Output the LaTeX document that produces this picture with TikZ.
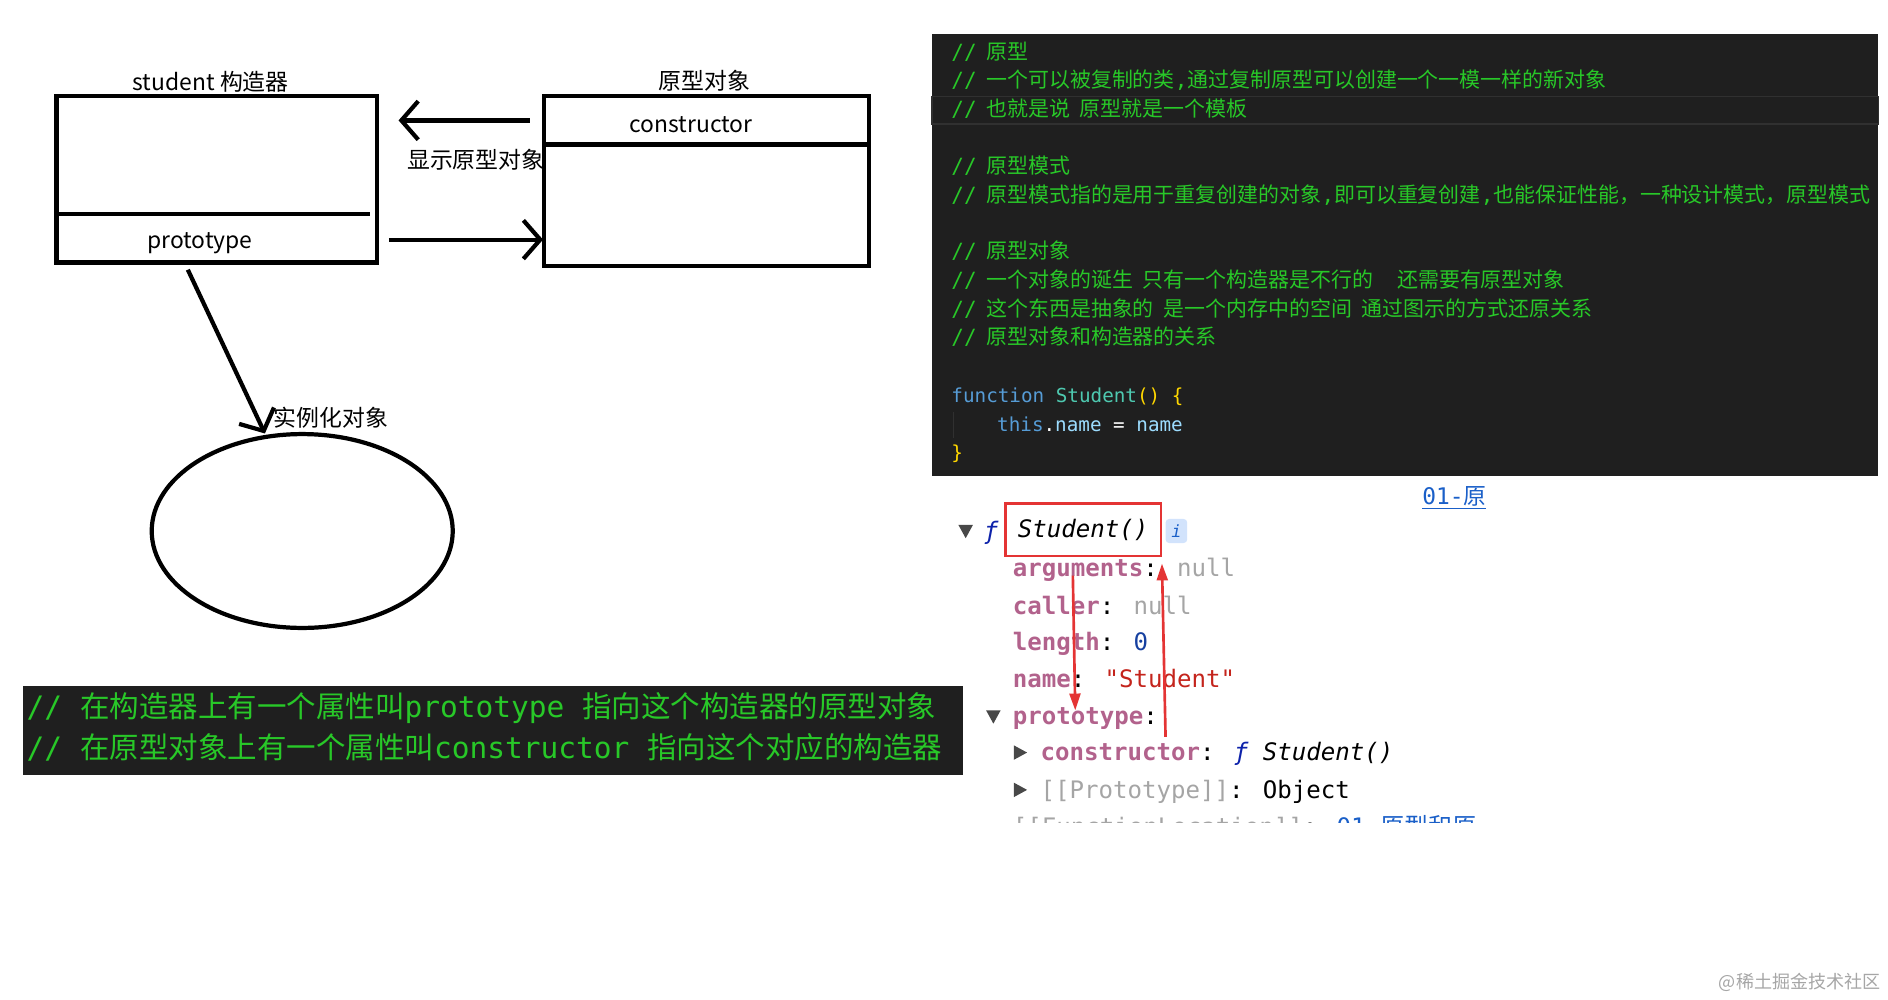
\documentclass[tikz,border=0pt]{standalone}
\usepackage{fontspec}
\setmainfont{Noto Sans CJK SC}
\newfontfamily\monofont{DejaVu Sans Mono}
\usetikzlibrary{arrows.meta}

\definecolor{codebg}{RGB}{31,31,31}
\definecolor{hlline}{RGB}{48,48,48}
\definecolor{cmtgreen}{RGB}{40,200,40}
\definecolor{kwblue}{RGB}{86,156,214}
\definecolor{fnteal}{RGB}{78,201,176}
\definecolor{gold}{RGB}{255,215,0}
\definecolor{varblue}{RGB}{156,220,254}
\definecolor{propc}{RGB}{178,98,140}
\definecolor{nullc}{RGB}{165,165,165}
\definecolor{numblue}{RGB}{22,64,160}
\definecolor{strred}{RGB}{196,36,28}
\definecolor{fblue}{RGB}{13,34,170}
\definecolor{linkblue}{RGB}{26,95,200}
\definecolor{markred}{RGB}{228,52,52}
\definecolor{badgebg}{RGB}{210,227,252}
\definecolor{trigray}{RGB}{72,72,72}

\newcommand{\cslash}{{\monofont//}\hspace{8pt}}
\newcommand{\pname}[1]{\textcolor{propc}{\bfseries #1}}

\begin{document}
\begin{tikzpicture}[x=1pt, y=-1pt,
    hand/.style={line width=3.5pt},
    barb/.style={-{Straight Barb[length=14pt, width=32pt]}},
    lbl/.style={inner sep=0pt, anchor=base, font=\fontsize{19}{19}\selectfont},
    cmt/.style={inner sep=0pt, anchor=base west, text=cmtgreen, font=\fontsize{17.4}{17.4}\selectfont},
    code/.style={inner sep=0pt, anchor=base west, font=\monofont\fontsize{16}{16}\selectfont},
    dev/.style={inner sep=0pt, anchor=base west, font=\monofont\fontsize{20}{20}\selectfont},
    redarrow/.style={draw=markred, line width=2.2pt, -{Triangle[length=14pt, width=9pt]}}]

    \useasboundingbox (0,0) rectangle (1568,830);

    % Constructeur
    \draw[hand] (47,80) rectangle (313,218);
    \draw[hand] (47,178) -- (307,178);
    \node[lbl] (ctorlbl) at (175,75) {student 构造器};
    \node[lbl] (protolbl) at (166,206) {prototype};

    % Objet prototype
    \draw[hand] (452,80) rectangle (722,221);
    \draw[hand] (452,120) -- (722,120);
    \node[lbl] (objlbl) at (585,74) {原型对象};
    \node[lbl] (conslbl) at (574,110) {constructor};

    % Instance
    \draw[hand] (251,441) ellipse [x radius=125, y radius=80.5];

    \coordinate (pa) at (440,100);
    \coordinate (pb) at (331,100);
    \draw[hand, barb] (pa) -- (pb);
    \node[lbl, anchor=base west] (showlbl) at (338,140) {显示原型对象};

    \coordinate (qa) at (323,199);
    \coordinate (qb) at (451,199);
    \draw[hand, barb] (qa) -- (qb);

    \coordinate (ra) at (156,224);
    \coordinate (rb) at (220,360);
    \draw[hand, barb] (ra) -- (rb);
    \node[lbl, anchor=base west] (newlbl) at (227,354) {实例化对象};

    % Remarque en bas
    \fill[codebg] (19,570) rectangle (800,644);
    \node[inner sep=0pt, anchor=base west, text=cmtgreen, font=\fontsize{24.5}{24.5}\selectfont] (note1) at (22,596)
        {{\monofont// }在构造器上有一个属性叫{\monofont prototype }指向这个构造器的原型对象};
    \node[inner sep=0pt, anchor=base west, text=cmtgreen, font=\fontsize{24.5}{24.5}\selectfont] (note2) at (22,630)
        {{\monofont// }在原型对象上有一个属性叫{\monofont constructor }指向这个对应的构造器};

    % Editeur
    \fill[codebg] (774,28) rectangle (1560,395);
    \draw[hlline, line width=1pt] (774,80) rectangle (1560,103);
    \node[cmt] (c1) at (790,49) {\cslash 原型};
    \node[cmt] (c2) at (790,73) {\cslash 一个可以被复制的类{\monofont,}通过复制原型可以创建一个一模一样的新对象};
    \node[cmt] (c3) at (790,97) {\cslash 也就是说\hspace{8pt}原型就是一个模板};
    \node[cmt] (c4) at (790,144) {\cslash 原型模式};
    \node[cmt] (c5) at (790,168) {\cslash 原型模式指的是用于重复创建的对象{\monofont,}即可以重复创建{\monofont,}也能保证性能，一种设计模式，原型模式};
    \node[cmt] (c6) at (790,215) {\cslash 原型对象};
    \node[cmt] (c7) at (790,239) {\cslash 一个对象的诞生\hspace{8pt}只有一个构造器是不行的\hspace{20pt}还需要有原型对象};
    \node[cmt] (c8) at (790,263) {\cslash 这个东西是抽象的\hspace{8pt}是一个内存中的空间\hspace{8pt}通过图示的方式还原关系};
    \node[cmt] (c9) at (790,286) {\cslash 原型对象和构造器的关系};
    \node[code] (k1) at (790,334) {\textcolor{kwblue}{function} \textcolor{fnteal}{Student}\textcolor{gold}{() \{}};
    \draw[hlline, line width=1pt] (792,342) -- (792,364);
    \node[code] (k2) at (828,358) {\textcolor{kwblue}{this}\textcolor{white}{.}\textcolor{varblue}{name} \textcolor{white}{=} \textcolor{varblue}{name}};
    \node[code] (k3) at (790,382) {\textcolor{gold}{\}}};

    % Console
    \node[dev, font=\monofont\fontsize{19}{19}\selectfont, text=linkblue] (src) at (1181,419) {\underline{01-{\rmfamily 原}}};
    \fill[trigray] (796,436) -- (808,436) -- (802,447) -- cycle;
    \node[dev, text=fblue, font=\monofont\itshape\fontsize{20}{20}\selectfont] (fsym) at (817,448) {ƒ};
    \node[draw=markred, line width=2pt, minimum width=129pt, minimum height=44pt, inner sep=0pt,
          font=\monofont\itshape\fontsize{20}{20}\selectfont] (fname) at (899.5,440) {Student()};
    \node[fill=badgebg, rounded corners=3pt, minimum width=18pt, minimum height=20pt, inner sep=0pt,
          text=linkblue, font=\monofont\itshape\fontsize{14}{14}\selectfont] (info) at (977,441) {i};

    \node[dev] (p1) at (841,479) {\pname{arguments}: \textcolor{nullc}{null}};
    \node[dev] (p2) at (841,510) {\pname{caller}: \textcolor{nullc}{null}};
    \node[dev] (p3) at (841,540) {\pname{length}: \textcolor{numblue}{0}};
    \node[dev] (p4) at (841,571) {\pname{name}: \textcolor{strred}{"Student"}};
    \fill[trigray] (819,590) -- (831,590) -- (825,601) -- cycle;
    \node[dev] (p5) at (841,602) {\pname{prototype}:};
    \fill[trigray] (842,619) -- (842,631) -- (853,625) -- cycle;
    \node[dev] (p6) at (864,632) {\pname{constructor}: \textcolor{fblue}{\itshape ƒ} {\itshape Student()}};
    \fill[trigray] (842,650) -- (842,662) -- (853,656) -- cycle;
    \node[dev] (p7) at (864,663) {\textcolor{nullc}{[[Prototype]]}: Object};
    \begin{scope}
        \clip (830,672) rectangle (1260,683);
        \node[dev] (p8) at (841,694) {\textcolor{nullc}{[[FunctionLocation]]}: \textcolor{linkblue}{01-{\rmfamily 原型和原}}};
    \end{scope}

    \coordinate (ua) at (891,478);
    \coordinate (ub) at (893,590);
    \draw[redarrow] (ua) -- (ub);
    \coordinate (va) at (968,612);
    \coordinate (vb) at (965,468);
    \draw[redarrow] (va) -- (vb);

    \node[inner sep=0pt, anchor=base east, text=black!35, font=\fontsize{15}{15}\selectfont] (wm) at (1562,821) {@稀土掘金技术社区};
\end{tikzpicture}
\end{document}
